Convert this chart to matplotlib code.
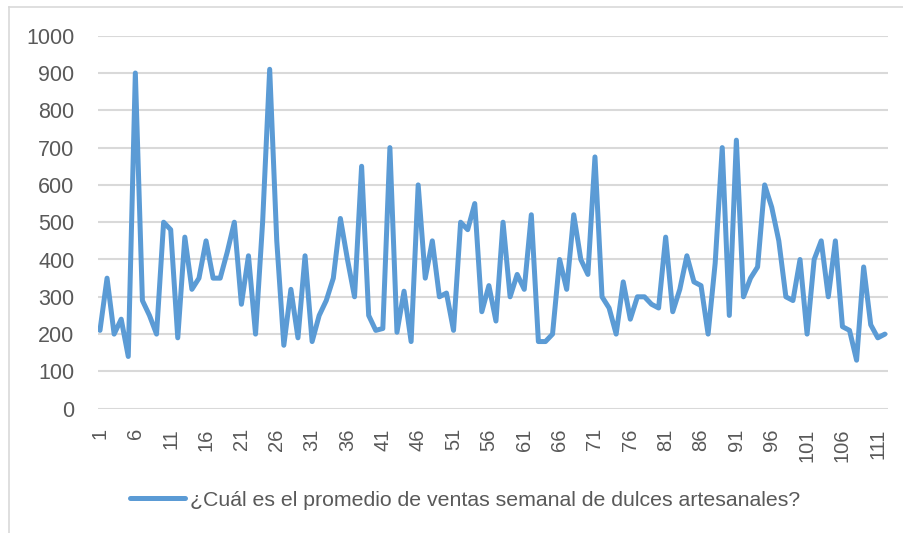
import matplotlib.pyplot as plt
from matplotlib.lines import Line2D

# semanas (respuestas 1..112)
semanas = list(range(1, 113))

ventas = [210, 350, 200, 240, 140, 900, 290, 250, 200, 500,
          480, 190, 460, 320, 350, 450, 350, 350, 420, 500,
          280, 410, 200, 500, 910, 450, 170, 320, 190, 410,
          180, 250, 290, 350, 510, 400, 300, 650, 250, 210,
          215, 700, 205, 315, 180, 600, 350, 450, 300, 310,
          210, 500, 480, 550, 260, 330, 235, 500, 300, 360,
          320, 520, 180, 180, 200, 400, 320, 520, 400, 360,
          675, 300, 270, 200, 340, 240, 300, 300, 280, 270,
          460, 260, 320, 410, 340, 330, 200, 390, 700, 250,
          720, 300, 350, 380, 600, 540, 450, 300, 290, 400,
          200, 400, 450, 300, 450, 220, 210, 130, 380, 225,
          190, 200]

etiquetas_x = list(range(1, 113, 5))
etiquetas_y = list(range(0, 1001, 100))
leyenda = "¿Cuál es el promedio de ventas semanal de dulces artesanales?"

azul = "#5b9bd5"
gris_texto = "#595959"
gris_grid = "#d9d9d9"

plt.rcParams['font.family'] = ['Liberation Sans', 'DejaVu Sans']

fig = plt.figure(figsize=(9.04, 5.33), dpi=100)
ax = fig.add_axes([98 / 904, 1 - 408.7 / 533, (887.7 - 98) / 904, (408.7 - 35.7) / 533])

ax.plot(semanas, ventas, color=azul, linewidth=3.6, solid_joinstyle='round', solid_capstyle='round', zorder=3)

ax.set_xlim(0.72, 112.4)
ax.set_ylim(0, 1000)
ax.set_yticks(etiquetas_y)
ax.set_xticks(etiquetas_x)
ax.set_xticklabels([str(e) for e in etiquetas_x], rotation=90)

ax.grid(axis='y', color=gris_grid, linewidth=1.5)
ax.set_axisbelow(True)
for s in ax.spines.values():
    s.set_visible(False)
ax.tick_params(axis='both', length=0, colors=gris_texto)
ax.tick_params(axis='y', labelsize=15.5, pad=17)
ax.tick_params(axis='x', labelsize=14.5, pad=14)

# leyenda abajo
h = Line2D([], [], color=azul, linewidth=3.6, solid_capstyle='round')
fig.legend([h], [leyenda], loc='center', bbox_to_anchor=(465 / 904, 1 - 500 / 533),
           frameon=False, fontsize=15.3, labelcolor=gris_texto,
           handlelength=2.6, handletextpad=0.2)

# borde del area del grafico
fig.add_artist(Line2D([9 / 904, 9 / 904], [0, 1 - 7 / 533], color=gris_grid, linewidth=1.2))
fig.add_artist(Line2D([9 / 904, 1], [1 - 7 / 533, 1 - 7 / 533], color=gris_grid, linewidth=1.2))

plt.savefig("out.png", dpi=100)
